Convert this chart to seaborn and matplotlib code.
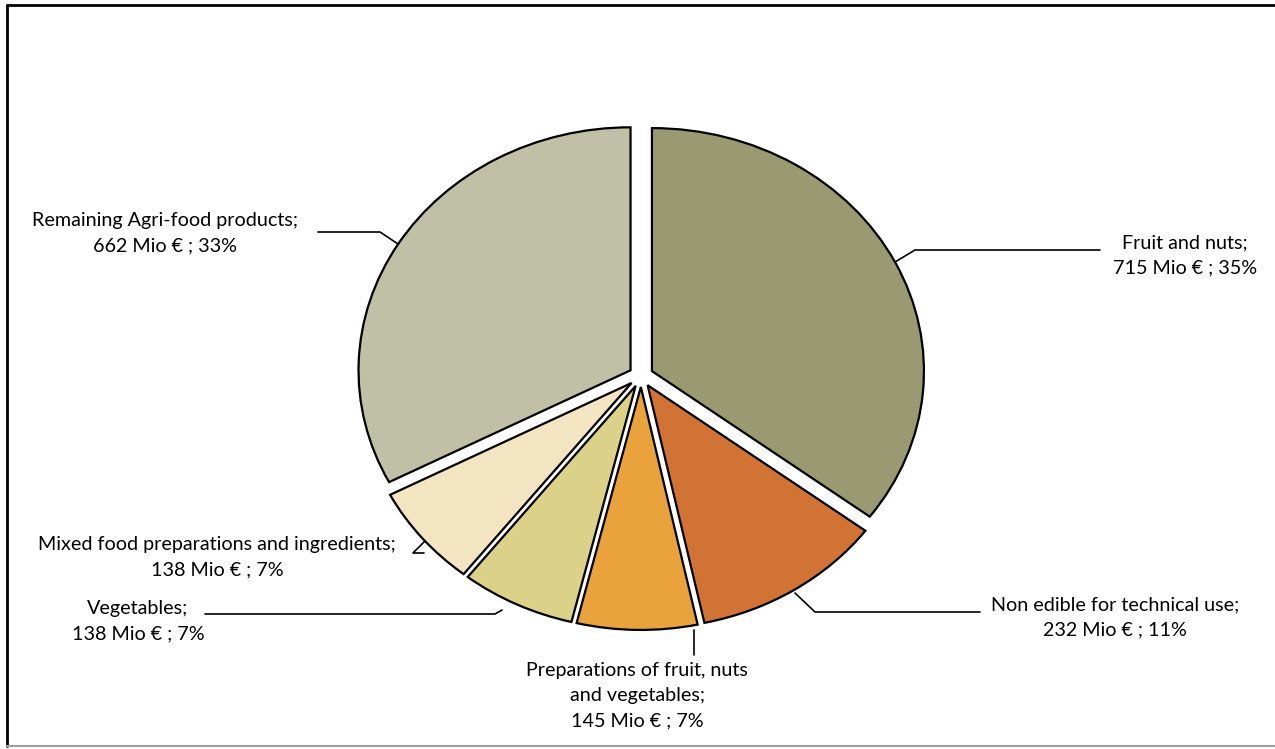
import matplotlib
matplotlib.use("Agg")
import matplotlib.pyplot as plt
import seaborn as sns

categories = [
    "Fruit and nuts",
    "Non edible for technical use",
    "Preparations of fruit, nuts\nand vegetables",
    "Vegetables",
    "Mixed food preparations and ingredients",
    "Remaining Agri-food products",
]
values_mio = [715, 232, 145, 138, 138, 662]
shares_pct = [35, 11, 7, 7, 7, 33]
colors = ["#9A9A72", "#D07335", "#E9A23C", "#DCD189", "#F3E5C1", "#BFC0A5"]

sns.set_theme(style="white")
plt.rcParams["font.family"] = ["Lato", "DejaVu Sans"]

W, H = 1275, 749
fig = plt.figure(figsize=(W / 100, H / 100), dpi=100)

# pie axes: unit radius stretched to an ellipse (rx=272px, ry=243px) around (641, 376)
cx, cy, rx, ry = 641, 376, 272, 243
ax = fig.add_axes([0, 0, 1, 1])
ax.pie(values_mio, colors=colors, startangle=90, counterclock=False,
       explode=[0.045] * len(values_mio),
       wedgeprops=dict(edgecolor="black", linewidth=1.6))
ax.set_aspect("auto")
ax.set_xlim(-cx / rx, (W - cx) / rx)
ax.set_ylim(-(H - cy) / ry, cy / ry)
ax.axis("off")

# overlay in pixel coordinates for labels, leader lines and frame
ov = fig.add_axes([0, 0, 1, 1], facecolor="none")
ov.set_xlim(0, W)
ov.set_ylim(H, 0)
ov.axis("off")

ov.plot([7, 7], [5, 746], color="black", lw=2)
ov.plot([7, W], [5, 5], color="black", lw=2)
ov.plot([7, W], [746, 746], color="#a0a0a0", lw=1.5)

label_pos = [(1185, 255), (1115, 617), (637, 696), (138, 621), (217, 557), (165, 233)]
leaders = [
    [(895, 262), (915, 250), (1100, 250)],
    [(795, 593), (815, 612), (980, 612)],
    [(694, 630), (694, 655)],
    [(205, 614), (495, 614), (502, 610)],
    [(425, 541), (413, 553), (424, 553)],
    [(318, 232), (380, 232), (398, 244)],
]

for name, v, p, (x, y), pts in zip(categories, values_mio, shares_pct, label_pos, leaders):
    txt = f"{name};\n{v} Mio € ; {p}%"
    ov.text(x, y, txt, ha="center", va="center", fontsize=14.2,
            linespacing=1.58, color="black")
    xs, ys = zip(*pts)
    ov.plot(xs, ys, color="black", lw=1.2)

fig.savefig("out.png", dpi=100)
